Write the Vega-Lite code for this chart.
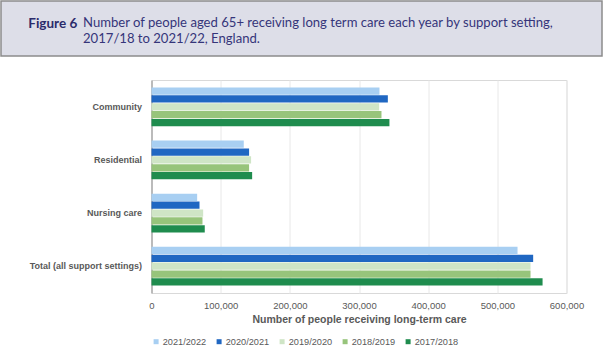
{
  "$schema": "https://vega.github.io/schema/vega-lite/v6.json",
  "background": "white",
  "padding": 0,
  "autosize": {"type": "pad"},
  "config": {"font": "Liberation Sans", "view": {"stroke": null}},
  "spacing": 22,
  "datasets": {
    "care": [
      {"setting": "Community", "year": "2021/2022", "people": 329600},
      {"setting": "Community", "year": "2020/2021", "people": 341700},
      {"setting": "Community", "year": "2019/2020", "people": 329200},
      {"setting": "Community", "year": "2018/2019", "people": 332500},
      {"setting": "Community", "year": "2017/2018", "people": 344000},
      {"setting": "Residential", "year": "2021/2022", "people": 133400},
      {"setting": "Residential", "year": "2020/2021", "people": 141100},
      {"setting": "Residential", "year": "2019/2020", "people": 144000},
      {"setting": "Residential", "year": "2018/2019", "people": 141100},
      {"setting": "Residential", "year": "2017/2018", "people": 145500},
      {"setting": "Nursing care", "year": "2021/2022", "people": 66000},
      {"setting": "Nursing care", "year": "2020/2021", "people": 69400},
      {"setting": "Nursing care", "year": "2019/2020", "people": 74700},
      {"setting": "Nursing care", "year": "2018/2019", "people": 73700},
      {"setting": "Nursing care", "year": "2017/2018", "people": 77000},
      {"setting": "Total (all support settings)", "year": "2021/2022", "people": 529200},
      {"setting": "Total (all support settings)", "year": "2020/2021", "people": 551800},
      {"setting": "Total (all support settings)", "year": "2019/2020", "people": 548000},
      {"setting": "Total (all support settings)", "year": "2018/2019", "people": 548000},
      {"setting": "Total (all support settings)", "year": "2017/2018", "people": 565400}
    ],
    "settings": [
      {"setting": "Community"},
      {"setting": "Residential"},
      {"setting": "Nursing care"},
      {"setting": "Total (all support settings)"}
    ]
  },
  "title": {
    "text": "Figure 6",
    "anchor": "start",
    "frame": "bounds",
    "orient": "top",
    "dx": 28,
    "offset": -30,
    "font": "Lato",
    "fontSize": 13.5,
    "fontWeight": "bold",
    "color": "#2b2b6b"
  },
  "vconcat": [
    {
      "width": 601,
      "height": 55,
      "data": {"values": [{"panel": "header"}]},
      "mark": {"type": "rect", "fill": "#dddee8", "stroke": "#8c8c8c", "strokeWidth": 1.5},
      "encoding": {},
      "title": {
        "text": ["Number of people aged 65+ receiving long term care each year by support setting,", "2017/18 to 2021/22, England."],
        "anchor": "start",
        "frame": "group",
        "orient": "top",
        "dx": 82,
        "offset": -46,
        "font": "Lato",
        "fontSize": 13.1,
        "fontWeight": "normal",
        "lineHeight": 16,
        "color": "#35357a"
      }
    },
    {
      "spacing": 5.5,
      "resolve": {"legend": {"color": "independent"}, "scale": {"y": "independent"}},
      "hconcat": [
        {
          "width": 141,
          "height": 213,
          "data": {"name": "settings"},
          "mark": {"type": "text", "align": "right", "baseline": "middle", "fontWeight": "bold", "fontSize": 9.0, "color": "#595959"},
          "encoding": {
            "x": {"value": "width"},
            "y": {
              "field": "setting",
              "type": "nominal",
              "sort": ["Community", "Residential", "Nursing care", "Total (all support settings)"],
              "scale": {"paddingInner": 0.27, "paddingOuter": 0.14},
              "axis": null
            },
            "text": {"field": "setting"}
          }
        },
        {
          "width": 415,
          "height": 213,
          "view": {"stroke": "#d9d9d9"},
          "data": {"name": "care"},
          "mark": {"type": "bar"},
          "encoding": {
            "y": {
              "field": "setting",
              "type": "nominal",
              "sort": ["Community", "Residential", "Nursing care", "Total (all support settings)"],
              "scale": {"paddingInner": 0.27, "paddingOuter": 0.14},
              "axis": {
                "title": null,
                "ticks": false,
                "labels": false,
                "domainColor": "#8c8c8c"
              }
            },
            "yOffset": {
              "field": "year",
              "sort": ["2021/2022", "2020/2021", "2019/2020", "2018/2019", "2017/2018"],
              "scale": {"paddingInner": 0.08}
            },
            "x": {
              "field": "people",
              "type": "quantitative",
              "scale": {"domain": [0, 600000]},
              "axis": {
                "values": [0, 100000, 200000, 300000, 400000, 500000, 600000],
                "format": ",d",
                "labelFlush": false,
                "grid": true,
                "gridColor": "#e8e8e8",
                "ticks": false,
                "domain": false,
                "labelColor": "#595959",
                "labelFontSize": 9.5,
                "labelPadding": 7,
                "title": "Number of people receiving long-term care",
                "titleFontSize": 10.5,
                "titleFontWeight": "bold",
                "titleColor": "#595959",
                "titlePadding": 5
              }
            },
            "color": {
              "field": "year",
              "type": "nominal",
              "sort": ["2021/2022", "2020/2021", "2019/2020", "2018/2019", "2017/2018"],
              "scale": {
                "domain": ["2021/2022", "2020/2021", "2019/2020", "2018/2019", "2017/2018"],
                "range": ["#a8cff2", "#2067c2", "#cfe5c6", "#97c47b", "#1f8c4e"]
              },
              "legend": {
                "orient": "bottom",
                "direction": "horizontal",
                "title": null,
                "symbolType": "square",
                "symbolSize": 25,
                "symbolStrokeWidth": 0,
                "labelFontSize": 9.2,
                "labelColor": "#595959",
                "labelOffset": 2,
                "columnPadding": 8,
                "offset": 12
              }
            }
          }
        }
      ]
    }
  ]
}
